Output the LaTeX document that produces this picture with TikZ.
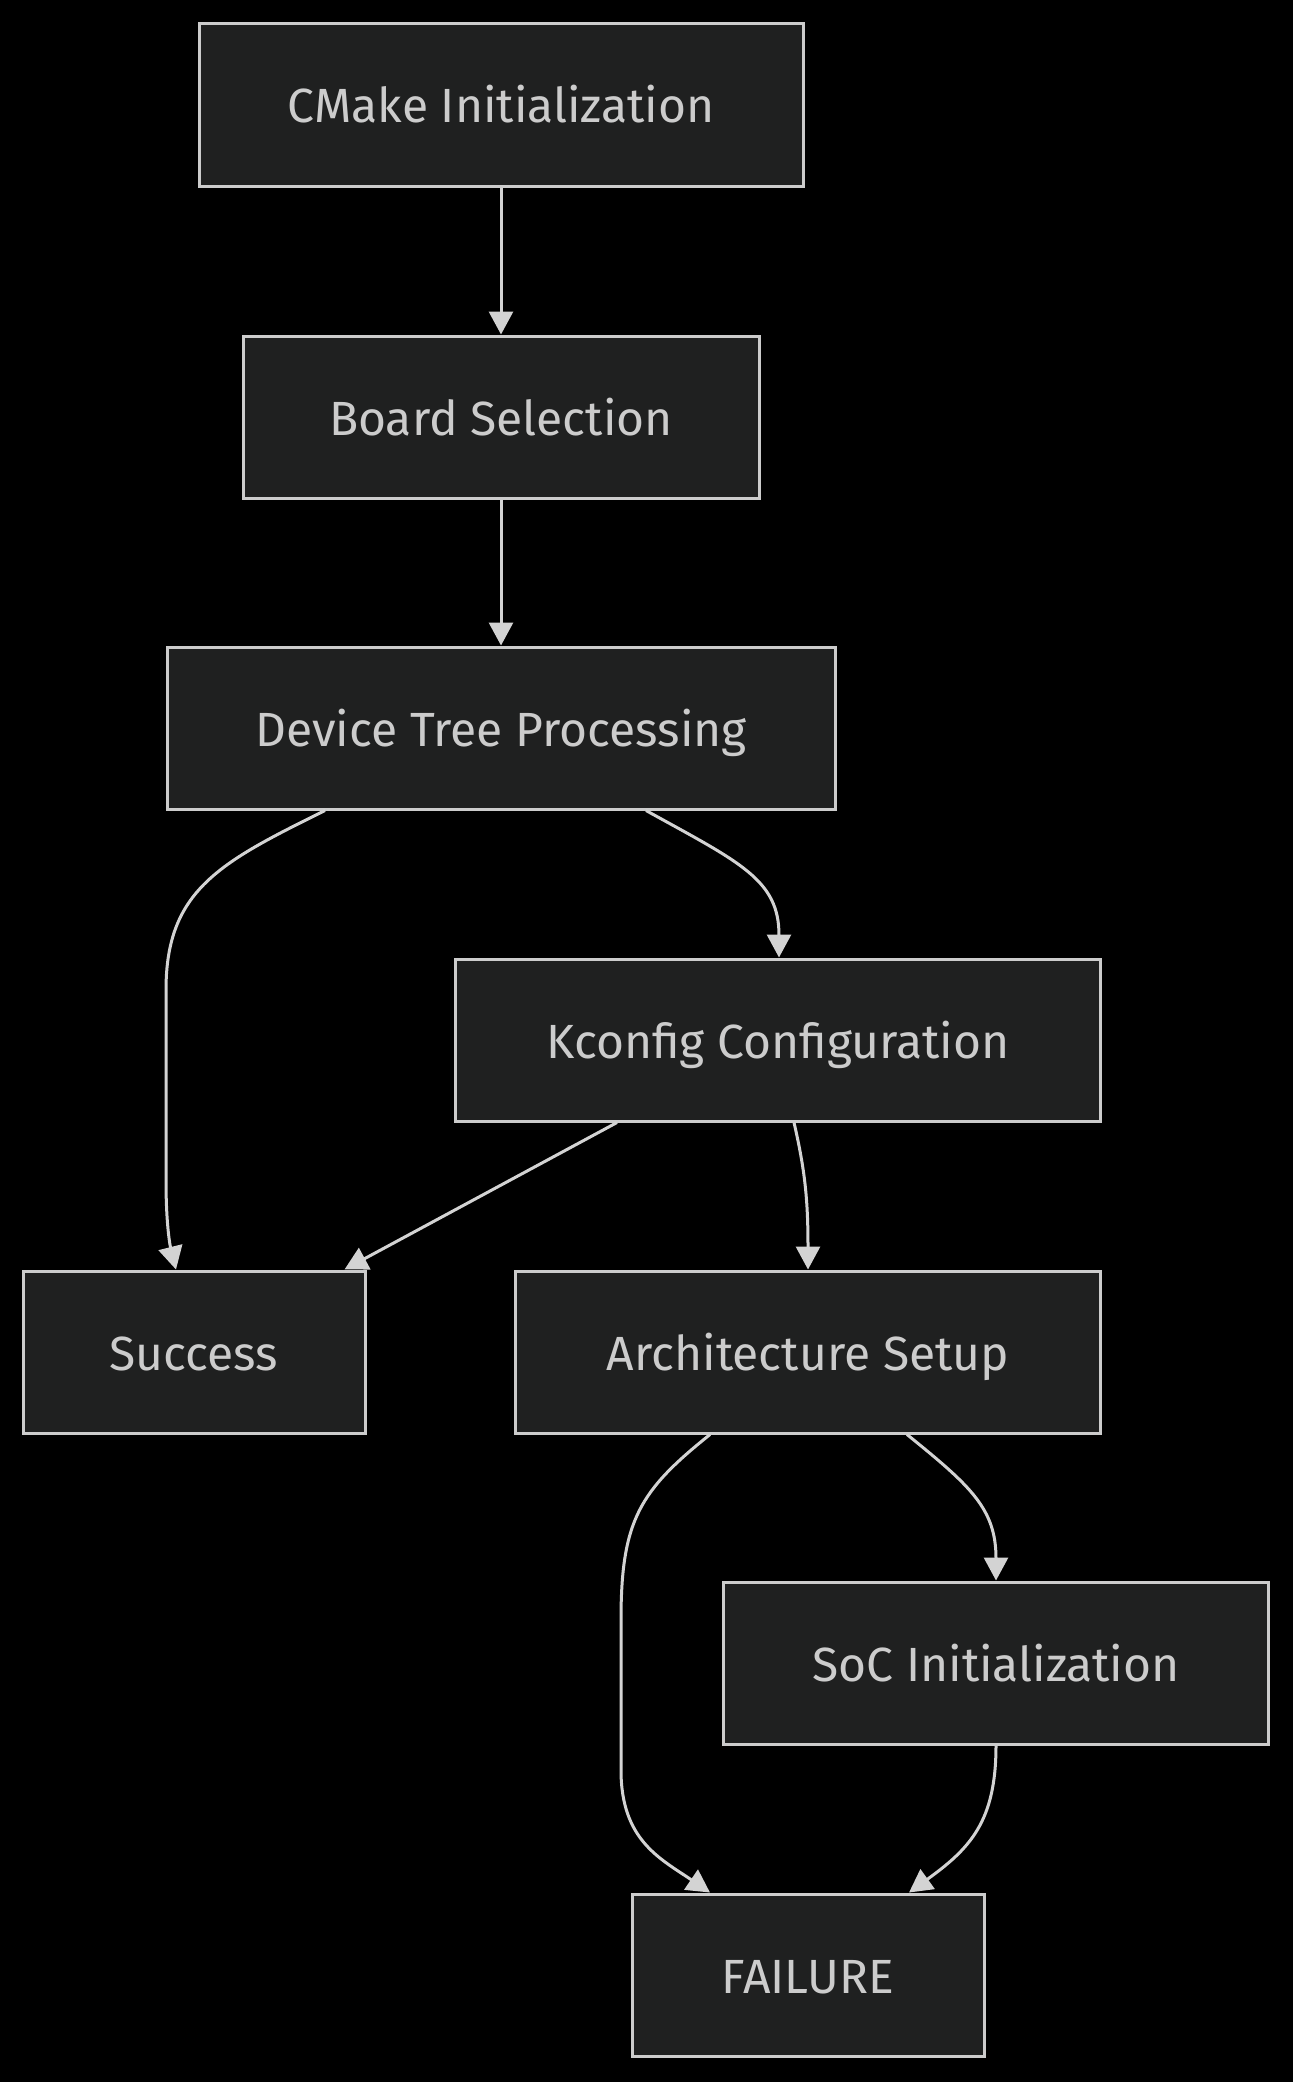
\documentclass[tikz,border=0pt]{standalone}
\usepackage{fontspec}
\setmainfont{Fira Sans}
\usetikzlibrary{arrows.meta}
\definecolor{boxfill}{HTML}{1F2020}
\definecolor{boxline}{HTML}{CCCCCC}
\definecolor{linec}{HTML}{D3D3D3}
\definecolor{textc}{HTML}{CCCCCC}
\tikzset{
  box/.style={draw=boxline, fill=boxfill, line width=3pt, minimum height=162pt, inner sep=0pt,
    text height=36pt, text depth=0pt,
    text=textc, font=\fontsize{48pt}{52pt}\selectfont},
  edge/.style={draw=linec, line width=3pt, -{Triangle[length=23pt,width=24pt]}}
}
\begin{document}
\begin{tikzpicture}[x=1pt,y=-1pt]
\fill[black] (0,0) rectangle (1293,2082);
\useasboundingbox (0,0) rectangle (1293,2082);
\node[box, minimum width=604pt] (A) at (501,105) {CMake Initialization};
\node[box, minimum width=516pt] (B) at (501,417) {Board Selection};
\node[box, minimum width=668pt] (C) at (501,728) {Device Tree Processing};
\node[box, minimum width=645pt] (D) at (778,1040) {Kconfig Configuration};
\node[box, minimum width=342pt] (E) at (194,1352) {Success};
\node[box, minimum width=585pt] (F) at (808,1352) {Architecture Setup};
\node[box, minimum width=545pt] (G) at (996,1663) {SoC Initialization};
\node[box, minimum width=352pt] (H) at (808,1975) {FAILURE};

\draw[edge] (A.south) -- (B.north);
\draw[edge] (B.south) -- (C.north);
\draw[edge] ([xshift=-176pt]C.south) .. controls +(-105,52) and +(0,-100) .. ([xshift=-335pt]C.south |- 0,990)
  -- ([xshift=-28pt]E.north |- 0,1180) .. controls +(0,50) and +(-5,-20) .. ([xshift=-18pt]E.north);
\draw[edge] ([xshift=145pt]C.south) .. controls +(94,52) and +(0,-78) .. ([xshift=1pt]D.north);
\draw[edge] ([xshift=-161pt]D.south) -- ([xshift=-22pt]E.north east);
\draw[edge] ([xshift=16pt]D.south) .. controls +(11,48) and +(0,-70) .. (F.north);
\draw[edge] ([xshift=99pt]F.south) .. controls +(63,51) and +(0,-72) .. (G.north);
\draw[edge] ([xshift=-98pt]F.south) .. controls +(-70,56) and +(0,-100) .. ([xshift=-187pt]F.south |- 0,1620)
  -- ([xshift=-187pt]H.north |- 0,1770) .. controls +(0,70) and +(-50,-34) .. ([xshift=-98pt]H.north);
\draw[edge] (G.south) .. controls +(0,76) and +(61,-44) .. ([xshift=101pt]H.north);
\end{tikzpicture}
\end{document}
